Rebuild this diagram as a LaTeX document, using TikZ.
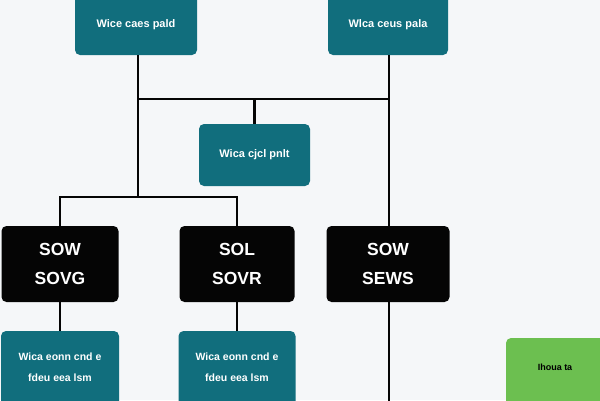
\documentclass[tikz,border=0pt]{standalone}
\usepackage{fontspec}
\setmainfont{Liberation Sans}
\definecolor{bgc}{HTML}{F5F7F9}
\definecolor{teal}{HTML}{116E7D}
\definecolor{grn}{HTML}{6CBF50}
\definecolor{blk}{HTML}{050505}
\begin{document}
\begin{tikzpicture}[x=1pt,y=-1pt,
  tealbox/.style={fill=teal,rounded corners=5pt,text=white,font=\bfseries\fontsize{11}{13}\selectfont,align=center,inner sep=0pt},
  blackbox/.style={fill=blk,rounded corners=5pt,text=white,font=\bfseries\fontsize{17.5}{29}\selectfont,align=center,inner sep=0pt,minimum width=116pt,minimum height=76pt},
  greenbox/.style={fill=grn,rounded corners=5pt,inner sep=0pt},
  lowtext/.style={font=\bfseries\fontsize{10.5}{21}\selectfont,text=white,align=center},
  conn/.style={line width=2.8pt,draw=blk}]
\clip (0,0) rectangle (600,400);
\fill[bgc] (0,0) rectangle (600,400);
% top boxes
\node[tealbox,minimum width=122pt,minimum height=60pt] (tl) at (136,25) {Wice caes pald};
\node[tealbox,minimum width=120pt,minimum height=60pt] (tr) at (388,25) {Wlca ceus pala};
\node[tealbox,minimum width=111pt,minimum height=62pt] (mid) at (254.5,155) {Wica cjcl pnlt};
% black boxes
\node[blackbox,minimum width=117pt] (b1) at (60,264) {SOW\\SOVG};
\node[blackbox,minimum width=115pt] (b2) at (237,264) {SOL\\SOVR};
\node[blackbox,minimum width=123pt] (b3) at (388,264) {SOW\\SEWS};
% bottom boxes
\node[tealbox,minimum width=118pt,minimum height=80pt] (l1) at (60,371) {};
\node[tealbox,minimum width=117pt,minimum height=80pt] (l2) at (237,371) {};
\node[lowtext] (t1) at (60,367) {Wica eonn cnd e\\fdeu eea lsm};
\node[lowtext] (t2) at (237,367) {Wica eonn cnd e\\fdeu eea lsm};
\node[greenbox,minimum width=100pt,minimum height=72pt] (g) at (556,374) {};
\node[font=\bfseries\fontsize{9}{10}\selectfont] (gt) at (555,367) {Ihoua ta};
% junction coordinates
\coordinate (j1) at (138,99);
\coordinate (j2) at (389,99);
\coordinate (j3) at (138,197);
\coordinate (bot) at (388,405);
% connectors
\draw[conn] (tl.south -| j1) -- (j3);
\draw[conn] (j1) -- (j2);
\draw[conn] (mid.north) -- (mid.north |- j1);
\draw[conn] (tr.south -| j2) -- (b3.north -| j2);
\draw[conn] (b1.north) -- (b1.north |- j3) -- (b2.north |- j3) -- (b2.north);
\draw[conn] (b1.south) -- (l1.north);
\draw[conn] (b2.south) -- (l2.north);
\draw[conn] (b3.south -| j2) -- (bot -| j2);
\end{tikzpicture}
\end{document}
